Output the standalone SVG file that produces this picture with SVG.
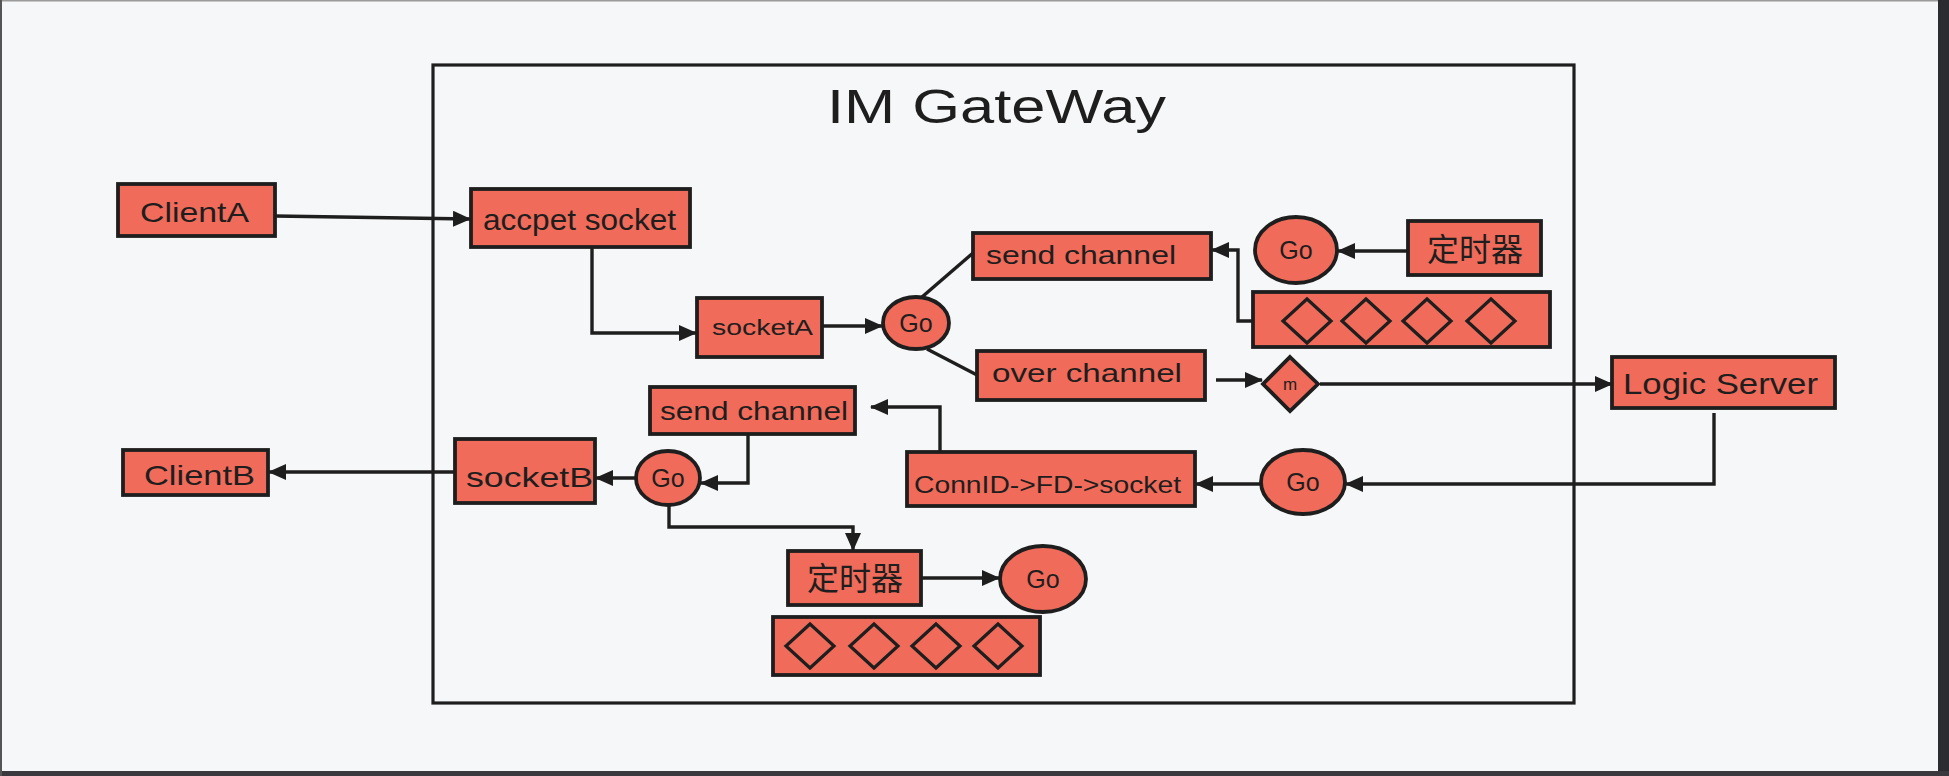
<svg xmlns="http://www.w3.org/2000/svg" width="1949" height="776" viewBox="0 0 1949 776">
<style>
.n{fill:#f06b5a;stroke:#1e1e1e;stroke-width:3.8}
.t{font-family:"Liberation Sans","DejaVu Sans","Noto Sans CJK SC",sans-serif;fill:#1e1e1e}
.g{font-size:25px}
.c{fill:none;stroke:#1e1e1e;stroke-width:3.4}
.a{marker-end:url(#arr)}
.d{fill:none;stroke:#1e1e1e;stroke-width:3.2}
</style>
<defs>
<marker id="arr" markerUnits="userSpaceOnUse" markerWidth="18" markerHeight="16" refX="17" refY="8" orient="auto">
<path d="M0,0 L18,8 L0,16 z" fill="#1e1e1e"/>
</marker>
</defs>
<rect x="0" y="0" width="1949" height="776" fill="#f6f7f9"/>
<rect x="1938" y="0" width="11" height="776" fill="#2b2b30"/>
<rect x="0" y="771" width="1949" height="5" fill="#3a3a3e"/>
<rect x="0" y="0" width="1938" height="1.5" fill="#9a9a9a"/>
<rect x="0" y="0" width="2" height="776" fill="#555"/>

<g id="gateway">
<rect x="433" y="65" width="1141" height="638" fill="none" stroke="#1e1e1e" stroke-width="3.2"/>
<text class="t" x="827" y="123" font-size="48" textLength="339" lengthAdjust="spacingAndGlyphs">IM GateWay</text>
</g>

<g id="connectors">
<path class="c a" d="M275,216 L470,219"/>
<path class="c a" d="M592,247 V333 H696"/>
<path class="c a" d="M822,326 H882"/>
<path class="c" d="M922,297 L973,253"/>
<path class="c" d="M927,349 L977,375"/>
<path class="c a" d="M1408,251 H1338"/>
<path class="c a" d="M1282,321 H1238 V250 H1212"/>
<path class="c a" d="M1216,380 H1262"/>
<path class="c a" d="M1320,384 H1612"/>
<path class="c a" d="M1714,413 V484 H1346"/>
<path class="c a" d="M1261,484 H1196"/>
<path class="c a" d="M940,452 V407 H871"/>
<path class="c a" d="M748,434 V483 H701"/>
<path class="c a" d="M636,478 H596"/>
<path class="c a" d="M455,472 H269"/>
<path class="c a" d="M669,505 V527 H853 V550"/>
<path class="c a" d="M921,578 H999"/>
</g>

<g id="clientA"><rect class="n" x="118" y="184" width="157" height="52"/>
<text class="t" x="140" y="222" font-size="28" textLength="109" lengthAdjust="spacingAndGlyphs">ClientA</text></g>

<g id="accpetSocket"><rect class="n" x="471" y="189" width="219" height="58"/>
<text class="t" x="483" y="230" font-size="30" textLength="193" lengthAdjust="spacingAndGlyphs">accpet socket</text></g>

<g id="socketA"><rect class="n" x="697" y="298" width="125" height="59"/>
<text class="t" x="712" y="335" font-size="22" textLength="101" lengthAdjust="spacingAndGlyphs">socketA</text></g>

<g id="goA"><ellipse class="n" cx="916" cy="323" rx="33" ry="26"/>
<text class="t g" x="916" y="332" text-anchor="middle">Go</text></g>

<g id="sendChannelTop"><rect class="n" x="973" y="233" width="238" height="46"/>
<text class="t" x="986" y="264" font-size="26" textLength="190" lengthAdjust="spacingAndGlyphs">send channel</text></g>

<g id="overChannel"><rect class="n" x="977" y="351" width="228" height="49"/>
<text class="t" x="992" y="382" font-size="26" textLength="190" lengthAdjust="spacingAndGlyphs">over channel</text></g>

<g id="goTimerTop"><ellipse class="n" cx="1296" cy="250" rx="41" ry="33"/>
<text class="t g" x="1296" y="259" text-anchor="middle">Go</text></g>

<g id="timerTop"><rect class="n" x="1408" y="221" width="133" height="54"/>
<text class="t" x="1475" y="261" font-size="32" text-anchor="middle">定时器</text></g>

<g id="queueTop"><rect class="n" x="1253" y="292" width="297" height="55"/>
<path class="d" d="M1307,299 L1331,321 L1307,343 L1283,321 Z M1366,299 L1390,321 L1366,343 L1342,321 Z M1427,299 L1451,321 L1427,343 L1403,321 Z M1491,299 L1515,321 L1491,343 L1467,321 Z"/></g>

<g id="mDiamond"><polygon class="n" points="1290,357 1318,384 1290,411 1263,384"/>
<text class="t" x="1290" y="390" font-size="17" text-anchor="middle">m</text></g>

<g id="logicServer"><rect class="n" x="1612" y="357" width="223" height="51"/>
<text class="t" x="1623" y="394" font-size="30" textLength="195" lengthAdjust="spacingAndGlyphs">Logic Server</text></g>

<g id="sendChannelBottom"><rect class="n" x="650" y="387" width="205" height="47"/>
<text class="t" x="660" y="420" font-size="26" textLength="188" lengthAdjust="spacingAndGlyphs">send channel</text></g>

<g id="socketB"><rect class="n" x="455" y="439" width="140" height="64"/>
<text class="t" x="466" y="487" font-size="28" textLength="127" lengthAdjust="spacingAndGlyphs">socketB</text></g>

<g id="clientB"><rect class="n" x="123" y="450" width="145" height="45"/>
<text class="t" x="144" y="485" font-size="28" textLength="111" lengthAdjust="spacingAndGlyphs">ClientB</text></g>

<g id="goB"><ellipse class="n" cx="668" cy="478" rx="32" ry="27"/>
<text class="t g" x="668" y="487" text-anchor="middle">Go</text></g>

<g id="connMap"><rect class="n" x="907" y="452" width="288" height="54"/>
<text class="t" x="914" y="493" font-size="24" textLength="267" lengthAdjust="spacingAndGlyphs">ConnID-&gt;FD-&gt;socket</text></g>

<g id="goLogic"><ellipse class="n" cx="1303" cy="482" rx="42" ry="32"/>
<text class="t g" x="1303" y="491" text-anchor="middle">Go</text></g>

<g id="timerBottom"><rect class="n" x="788" y="551" width="133" height="54"/>
<text class="t" x="855" y="590" font-size="32" text-anchor="middle">定时器</text></g>

<g id="goTimerBottom"><ellipse class="n" cx="1043" cy="579" rx="43" ry="33"/>
<text class="t g" x="1043" y="588" text-anchor="middle">Go</text></g>

<g id="queueBottom"><rect class="n" x="773" y="617" width="267" height="58"/>
<path class="d" d="M810,624 L834,646 L810,668 L786,646 Z M874,624 L898,646 L874,668 L850,646 Z M936,624 L960,646 L936,668 L912,646 Z M998,624 L1022,646 L998,668 L974,646 Z"/></g>
</svg>
